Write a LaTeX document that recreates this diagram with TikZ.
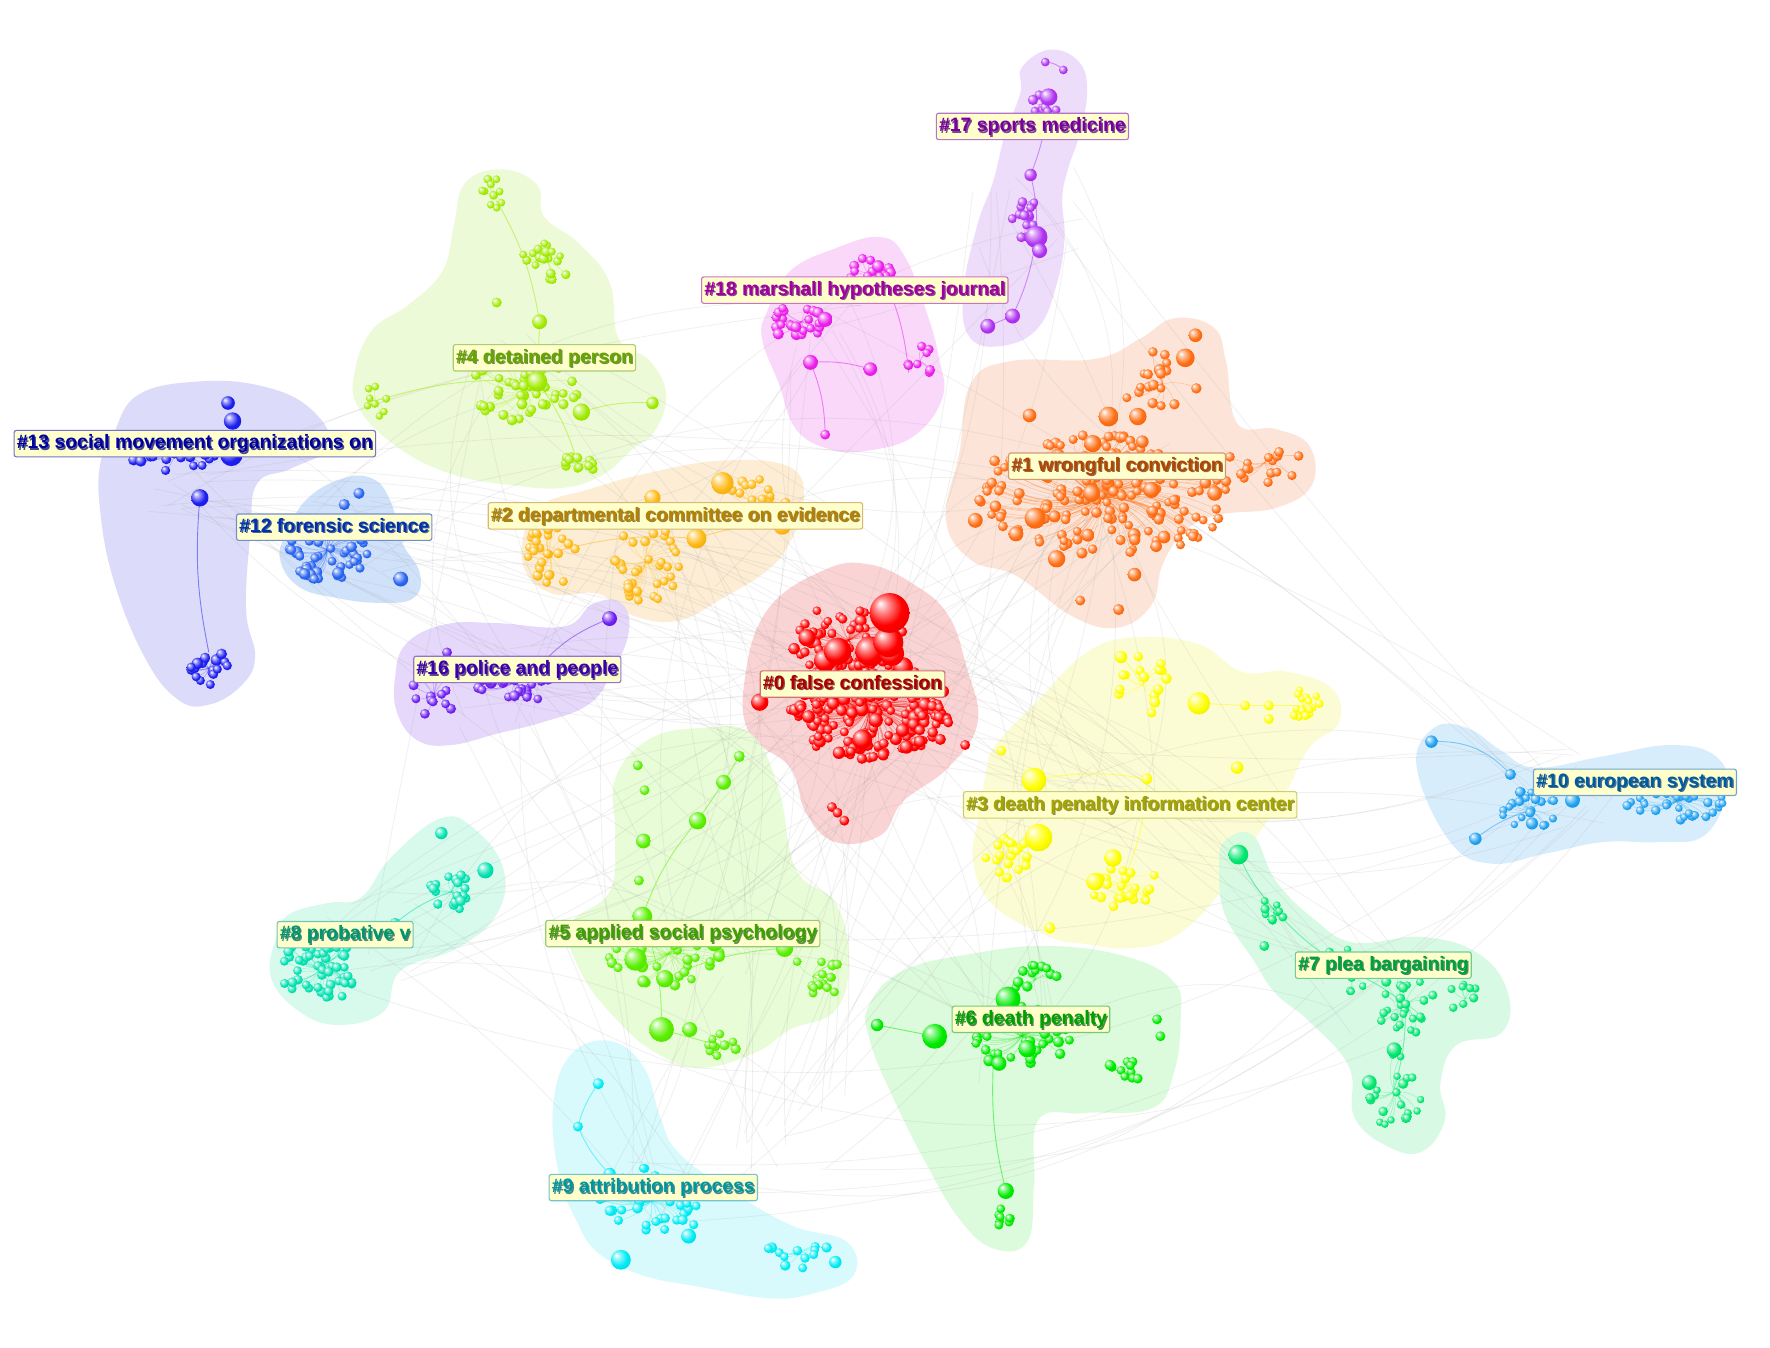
\documentclass[tikz,border=0pt]{standalone}
\usepackage{fontspec}
\newfontfamily\labfam{Liberation Sans}
% node colours
\definecolor{n0}{RGB}{255,0,0}\definecolor{n1}{RGB}{255,110,20}\definecolor{n2}{RGB}{255,185,20}
\definecolor{n3}{RGB}{255,255,0}\definecolor{n4}{RGB}{160,235,0}\definecolor{n5}{RGB}{90,240,0}
\definecolor{n6}{RGB}{0,235,0}\definecolor{n7}{RGB}{0,230,110}\definecolor{n8}{RGB}{0,225,175}
\definecolor{n9}{RGB}{0,235,245}\definecolor{n10}{RGB}{30,160,240}\definecolor{n12}{RGB}{40,100,240}
\definecolor{n13}{RGB}{30,30,240}\definecolor{n16}{RGB}{110,30,240}\definecolor{n17}{RGB}{175,50,240}
\definecolor{n18}{RGB}{235,30,235}
% blob colours
\definecolor{b0}{RGB}{250,205,205}\definecolor{b1}{RGB}{252,225,210}\definecolor{b2}{RGB}{252,235,205}
\definecolor{b3}{RGB}{252,252,205}\definecolor{b4}{RGB}{235,250,210}\definecolor{b5}{RGB}{228,252,210}
\definecolor{b6}{RGB}{215,250,215}\definecolor{b7}{RGB}{210,250,225}\definecolor{b8}{RGB}{210,250,235}
\definecolor{b9}{RGB}{210,250,252}\definecolor{b10}{RGB}{210,235,252}\definecolor{b12}{RGB}{200,220,250}
\definecolor{b13}{RGB}{215,215,250}\definecolor{b16}{RGB}{225,210,250}\definecolor{b17}{RGB}{235,215,250}
\definecolor{b18}{RGB}{250,210,250}
% label text colours
\definecolor{t0}{RGB}{170,0,0}\definecolor{t1}{RGB}{176,70,0}\definecolor{t2}{RGB}{180,130,0}
\definecolor{t3}{RGB}{165,165,0}\definecolor{t4}{RGB}{100,165,0}\definecolor{t5}{RGB}{60,160,0}
\definecolor{t6}{RGB}{0,160,0}\definecolor{t7}{RGB}{0,160,60}\definecolor{t8}{RGB}{0,150,110}
\definecolor{t9}{RGB}{0,150,160}\definecolor{t10}{RGB}{0,90,160}\definecolor{t12}{RGB}{0,50,170}
\definecolor{t13}{RGB}{0,0,160}\definecolor{t16}{RGB}{60,0,170}\definecolor{t17}{RGB}{120,0,160}
\definecolor{t18}{RGB}{160,0,160}
\definecolor{labfill}{RGB}{255,255,204}
\colorlet{mycol}{red}
\pgfdeclareradialshading[mycol]{myball}{\pgfpoint{-12bp}{12bp}}{color(0bp)=(white); color(9bp)=(mycol!45!white); color(22bp)=(mycol); color(40bp)=(mycol!88!black); color(47bp)=(mycol!55!black); color(50bp)=(mycol!40!black)}

\newcommand\shtxt[2]{\rlap{\kern0.6pt\raisebox{-0.6pt}{\textcolor{#1!45!gray}{#2}}}\textcolor{#1}{#2}}
\newcommand\myball[4]{\colorlet{mycol}{#1}\shade[shading=myball] (#2,#3) circle[radius=#4*0.55pt];}
% cluster: colour, cx, cy, sx, sy, n, rmin, rmax, seed
\newcommand\mycl[9]{%
  \pgfmathsetseed{#9}%
  \foreach \i in {1,...,#6}{%
    \pgfmathsetmacro\ang{360*rnd}%
    \pgfmathsetmacro\rr{sqrt(rnd)}%
    \pgfmathsetmacro\px{#2+#4*\rr*cos(\ang)}%
    \pgfmathsetmacro\py{#3+#5*\rr*sin(\ang)}%
    \pgfmathsetmacro\rad{#7+(#8-#7)*rnd*rnd}%
    \draw[#1, cedge] (#2,#3) to[bend left=18] (\px,\py);
  }%
  \colorlet{mycol}{#1}%
  \pgfmathsetseed{#9}%
  \foreach \i in {1,...,#6}{%
    \pgfmathsetmacro\ang{360*rnd}%
    \pgfmathsetmacro\rr{sqrt(rnd)}%
    \pgfmathsetmacro\px{#2+#4*\rr*cos(\ang)}%
    \pgfmathsetmacro\py{#3+#5*\rr*sin(\ang)}%
    \pgfmathsetmacro\rad{#7+(#8-#7)*rnd*rnd}%
    \shade[shading=myball] (\px,\py) circle[radius=\rad*0.55pt];
  }}

\begin{document}
\begin{tikzpicture}[x=0.5pt,y=-0.5pt,
  cedge/.style={line width=0.25pt, opacity=0.3},
  link/.style={line width=0.4pt, opacity=0.5},
  gedge/.style={black!45, line width=0.35pt, opacity=0.13},
  blob/.style={fill=#1, fill opacity=0.85},
  lab/.style={draw=#1!55, fill=labfill, rounded corners=1pt, inner xsep=1.2pt, inner ysep=1.6pt,
    text height=6.6pt, text depth=1.9pt, font=\labfam\bfseries\fontsize{8.6}{10}\selectfont,
    line width=0.5pt, anchor=west}]
\fill[white] (0,0) rectangle (1568,1194);
\useasboundingbox (0,0) rectangle (1568,1194);

% ---------------- cluster regions ----------------
\fill[blob=b13] plot[smooth cycle,tension=.7] coordinates {(100,385)(122,350)(175,338)(232,342)(275,362)(292,395)(258,415)(228,428)(222,470)(218,540)(226,582)(214,607)(186,624)(158,620)(128,582)(100,512)(88,445)(90,405)};
\fill[blob=b12] plot[smooth cycle,tension=.7] coordinates {(255,470)(272,442)(303,424)(330,424)(346,444)(356,480)(372,508)(366,530)(335,534)(300,530)(265,520)(248,495)};
\fill[blob=b4] plot[smooth cycle,tension=.7] coordinates {(412,162)(445,150)(476,164)(482,192)(512,215)(540,250)(548,300)(576,320)(590,350)(580,382)(560,398)(535,420)(500,432)(455,430)(400,420)(352,396)(318,362)(314,330)(330,292)(362,270)(392,240)(402,200)};
\fill[blob=b2] plot[smooth cycle,tension=.7] coordinates {(465,470)(482,446)(520,434)(570,420)(640,408)(700,414)(712,445)(700,480)(680,505)(640,530)(600,550)(560,545)(530,526)(490,526)(465,505)};
\fill[blob=b16] plot[smooth cycle,tension=.7] coordinates {(350,600)(360,570)(395,553)(440,552)(500,555)(525,535)(550,534)(557,560)(540,600)(520,625)(480,640)(440,650)(400,660)(370,656)(352,632)};
\fill[blob=b18] plot[smooth cycle,tension=.7] coordinates {(680,275)(700,240)(740,220)(780,210)(802,228)(822,280)(832,318)(835,352)(810,386)(770,399)(735,398)(705,380)(690,340)(675,300)};
\fill[blob=b17] plot[smooth cycle,tension=.7] coordinates {(905,60)(930,44)(956,55)(963,82)(956,120)(946,150)(941,176)(943,212)(936,252)(920,290)(890,306)(860,300)(853,262)(865,202)(880,160)(890,120)(904,82)};
\fill[blob=b1] plot[smooth cycle,tension=.7] coordinates {(850,400)(860,340)(895,320)(970,318)(1010,300)(1040,282)(1075,290)(1086,320)(1096,375)(1130,380)(1160,395)(1162,430)(1130,450)(1080,456)(1050,470)(1030,500)(1020,536)(990,556)(950,546)(900,510)(860,496)(838,460)};
\fill[blob=b3] plot[smooth cycle,tension=.7] coordinates {(882,660)(920,620)(960,580)(1000,565)(1060,570)(1100,595)(1140,595)(1180,610)(1186,640)(1160,662)(1140,700)(1110,746)(1080,792)(1040,830)(1000,840)(960,836)(930,830)(880,802)(862,762)(868,720)(874,682)};
\fill[blob=b0] plot[smooth cycle,tension=.7] coordinates {(660,600)(680,540)(730,505)(770,500)(810,518)(840,545)(856,590)(866,640)(840,680)(800,710)(780,740)(740,746)(714,720)(700,680)(664,650)};
\fill[blob=b10] plot[smooth cycle,tension=.7] coordinates {(1255,680)(1270,645)(1300,645)(1330,665)(1360,680)(1420,670)(1480,660)(1520,670)(1530,700)(1510,740)(1470,746)(1420,746)(1370,756)(1320,765)(1284,745)};
\fill[blob=b7] plot[smooth cycle,tension=.7] coordinates {(1085,745)(1110,740)(1130,780)(1165,815)(1200,835)(1260,830)(1310,845)(1336,880)(1330,915)(1290,926)(1276,960)(1280,992)(1260,1020)(1230,1016)(1200,990)(1195,945)(1160,905)(1130,880)(1110,850)(1085,810)(1080,770)};
\fill[blob=b5] plot[smooth cycle,tension=.7] coordinates {(545,690)(575,655)(620,645)(665,650)(690,700)(705,770)(740,800)(752,850)(740,895)(700,912)(670,932)(620,946)(580,932)(545,902)(515,862)(505,820)(540,790)(545,740)};
\fill[blob=b6] plot[smooth cycle,tension=.7] coordinates {(770,890)(800,860)(860,845)(930,838)(1000,848)(1040,870)(1046,900)(1040,950)(1020,982)(960,986)(920,992)(916,1050)(910,1100)(880,1106)(850,1080)(820,1030)(790,970)(770,920)};
\fill[blob=b8] plot[smooth cycle,tension=.7] coordinates {(245,830)(256,810)(290,800)(320,795)(346,760)(390,725)(420,734)(446,770)(440,810)(405,840)(355,860)(340,896)(300,908)(265,896)(240,866)};
\fill[blob=b9] plot[smooth cycle,tension=.7] coordinates {(490,980)(505,935)(540,922)(570,945)(585,990)(600,1020)(640,1050)(700,1085)(750,1100)(756,1130)(720,1146)(680,1150)(620,1140)(570,1130)(530,1110)(510,1080)(495,1040)};

% ---------------- faint gray inter-cluster links ----------------
\def\hx{{760,760,760,760,990,990,590,980,980,620,900,580,1200,470,320,450,300,170,750,910,1400,700}}
\def\hy{{610,610,610,610,430,430,480,700,700,830,920,1060,880,330,830,605,480,420,300,180,700,1000}}
\pgfmathsetseed{4242}
\foreach \k in {1,...,190}{
  \pgfmathsetmacro\ia{int(21.99*rnd)}
  \pgfmathsetmacro\ib{int(21.99*rnd)}
  \pgfmathsetmacro\xa{\hx[\ia]+50*rand}
  \pgfmathsetmacro\ya{\hy[\ia]+40*rand}
  \pgfmathsetmacro\xb{\hx[\ib]+50*rand}
  \pgfmathsetmacro\yb{\hy[\ib]+40*rand}
  \pgfmathsetmacro\bnd{35*rand}
  \draw[gedge] (\xa,\ya) to[bend left=\bnd] (\xb,\yb);
}

% ---------------- #13 ----------------
\draw[n13,link] (177,441) to[bend right=8] (185,578);
\mycl{n13}{155}{400}{50}{18}{28}{3.5}{5.5}{13}
\mycl{n13}{185}{592}{22}{15}{18}{3.5}{5}{113}
\myball{n13}{205}{403}{9}\myball{n13}{202}{357}{5.5}\myball{n13}{206}{373}{7}\myball{n13}{177}{441}{7}
% ---------------- #12 ----------------
\mycl{n12}{290}{487}{36}{28}{55}{3.5}{5}{12}
\myball{n12}{355}{513}{6}\myball{n12}{318}{437}{4.5}\myball{n12}{305}{447}{4.5}
% ---------------- #4 ----------------
\draw[n4,link] (440,178) to[bend left=10] (478,285);
\draw[n4,link] (478,285) -- (476,338);
\draw[n4,link] (476,338) to[bend left=10] (512,412);
\draw[n4,link] (333,355) to[bend left=10] (476,338);
\draw[n4,link] (578,357) to[bend right=10] (515,365);
\mycl{n4}{437}{172}{14}{15}{10}{3}{4}{4}
\mycl{n4}{485}{232}{25}{18}{18}{3}{4.5}{14}
\mycl{n4}{465}{345}{50}{28}{45}{3.5}{5}{24}
\mycl{n4}{512}{412}{15}{10}{12}{3.5}{4.5}{34}
\mycl{n4}{333}{355}{10}{15}{8}{3}{4}{44}
\myball{n4}{476}{338}{8}\myball{n4}{515}{365}{7}\myball{n4}{478}{285}{6}\myball{n4}{578}{357}{5}\myball{n4}{440}{268}{4}
% ---------------- #2 ----------------
\draw[n2,link] (487,490) to[bend left=10] (617,477);
\draw[n2,link] (617,477) to[bend left=10] (693,466);
\mycl{n2}{487}{492}{25}{32}{30}{3.5}{4.5}{2}
\mycl{n2}{572}{497}{30}{38}{35}{3.5}{4.5}{12}
\mycl{n2}{665}{442}{35}{18}{22}{3.5}{4.5}{22}
\myball{n2}{640}{428}{9}\myball{n2}{617}{477}{8}\myball{n2}{578}{441}{6.5}\myball{n2}{693}{466}{7}
% ---------------- #16 ----------------
\draw[n16,link] (540,548) to[bend right=15] (470,600);
\mycl{n16}{455}{605}{35}{18}{40}{3.5}{5}{16}
\mycl{n16}{385}{615}{20}{25}{15}{3.5}{4.5}{116}
\myball{n16}{540}{548}{6}\myball{n16}{396}{578}{4}
% ---------------- #18 ----------------
\draw[n18,link] (718,321) to[bend left=10] (731,385);
\draw[n18,link] (718,321) to[bend left=10] (771,327);
\draw[n18,link] (778,236) to[bend left=10] (805,330);
\mycl{n18}{710}{285}{25}{20}{22}{3.5}{5}{18}
\mycl{n18}{770}{243}{22}{15}{18}{3.5}{5}{118}
\mycl{n18}{815}{320}{12}{15}{8}{3.5}{4.5}{218}
\myball{n18}{718}{321}{6}\myball{n18}{771}{327}{5.5}\myball{n18}{731}{385}{4}\myball{n18}{778}{236}{5}\myball{n18}{731}{283}{6}
% ---------------- #17 ----------------
\draw[n17,link] (929,86) to[bend left=8] (913,155);
\draw[n17,link] (913,155) to[bend left=8] (918,210);
\draw[n17,link] (918,210) to[bend left=8] (897,280);
\draw[n17,link] (897,280) -- (875,289);
\draw[n17,link] (926,55) to[bend left=20] (942,62);
\mycl{n17}{910}{192}{14}{20}{16}{3.5}{4.5}{17}
\mycl{n17}{925}{95}{12}{14}{10}{3.5}{4.5}{117}
\myball{n17}{918}{210}{9}\myball{n17}{929}{86}{7}\myball{n17}{875}{289}{6}\myball{n17}{897}{280}{6}
\myball{n17}{913}{155}{5}\myball{n17}{926}{55}{3.5}\myball{n17}{942}{62}{3.5}\myball{n17}{921}{222}{6}
% ---------------- #1 ----------------
\mycl{n1}{975}{440}{115}{55}{175}{3.5}{5.5}{1}
\mycl{n1}{1030}{340}{35}{30}{18}{3.5}{5}{101}
\mycl{n1}{1120}{410}{35}{18}{15}{3.5}{4.5}{201}
\myball{n1}{1050}{317}{7.5}\myball{n1}{982}{369}{8}\myball{n1}{1008}{369}{7}\myball{n1}{968}{393}{7}
\myball{n1}{917}{459}{8.5}\myball{n1}{967}{437}{7}\myball{n1}{1020}{434}{6.5}\myball{n1}{1076}{437}{6}
\myball{n1}{936}{495}{7}\myball{n1}{900}{473}{6}\myball{n1}{864}{461}{6}\myball{n1}{912}{368}{5.5}
\myball{n1}{1059}{297}{5.5}\myball{n1}{1005}{509}{5.5}\myball{n1}{991}{540}{4.5}\myball{n1}{957}{532}{4}
% ---------------- #0 ----------------
\mycl{n0}{770}{628}{72}{45}{200}{3.5}{6}{100}
\mycl{n0}{752}{567}{50}{35}{50}{3.5}{5}{200}
\myball{n0}{737}{715}{4}\myball{n0}{742}{720}{4}\myball{n0}{748}{727}{4}
\myball{n0}{855}{660}{4}\myball{n0}{833}{655}{4.5}\myball{n0}{840}{640}{4}\myball{n0}{817}{634}{4}
\myball{n0}{673}{622}{7}\myball{n0}{715}{565}{7}\myball{n0}{764}{655}{8}\myball{n0}{800}{591}{8}
\myball{n0}{731}{585}{9}\myball{n0}{742}{577}{11}\myball{n0}{771}{577}{12}\myball{n0}{790}{579}{10}
\myball{n0}{787}{569}{12}\myball{n0}{788}{543}{16}
% ---------------- #3 ----------------
\draw[n3,link] (1062,623) -- (1103,625) -- (1155,625);
\draw[n3,link] (993,582) to[bend left=10] (1010,605);
\draw[n3,link] (916,691) to[bend left=10] (1016,690);
\draw[n3,link] (1016,690) to[bend left=10] (995,780);
\mycl{n3}{1012}{607}{22}{30}{14}{3.5}{4.5}{3}
\mycl{n3}{1155}{625}{15}{14}{18}{3}{4}{103}
\mycl{n3}{893}{760}{20}{18}{22}{3.5}{4.5}{203}
\mycl{n3}{995}{782}{30}{22}{28}{3.5}{4.5}{303}
\myball{n3}{1062}{623}{9}\myball{n3}{916}{691}{10}\myball{n3}{920}{742}{11}\myball{n3}{970}{781}{7}
\myball{n3}{986}{760}{7}\myball{n3}{1096}{680}{5}\myball{n3}{993}{582}{5}\myball{n3}{1023}{622}{4.5}
\myball{n3}{1016}{690}{4.5}\myball{n3}{930}{822}{4.5}\myball{n3}{1103}{625}{4}\myball{n3}{1124}{625}{4}
\myball{n3}{1124}{637}{4}\myball{n3}{887}{665}{4}
% ---------------- #10 ----------------
\draw[n10,link] (1268,657) to[bend left=25] (1338,686);
\draw[n10,link] (1307,743) to[bend left=10] (1355,718);
\mycl{n10}{1485}{710}{45}{17}{40}{3}{4.5}{10}
\mycl{n10}{1355}{718}{25}{18}{22}{3}{5}{110}
\myball{n10}{1268}{657}{5}\myball{n10}{1307}{743}{5}\myball{n10}{1338}{686}{4.5}\myball{n10}{1393}{709}{6}
% ---------------- #7 ----------------
\draw[n7,link] (1097,757) to[bend right=8] (1128,805);
\draw[n7,link] (1128,805) to[bend right=8] (1195,860);
\draw[n7,link] (1195,860) to[bend left=8] (1245,890);
\draw[n7,link] (1245,890) to[bend left=8] (1235,965);
\mycl{n7}{1128}{805}{12}{12}{9}{3}{4}{7}
\mycl{n7}{1195}{860}{35}{20}{20}{3}{4.5}{107}
\mycl{n7}{1245}{890}{28}{28}{25}{3}{4.5}{207}
\mycl{n7}{1298}{885}{15}{15}{8}{3}{4}{307}
\mycl{n7}{1235}{967}{25}{35}{22}{3}{4.5}{407}
\myball{n7}{1097}{757}{8}\myball{n7}{1213}{959}{6}\myball{n7}{1235}{930}{6}\myball{n7}{1120}{838}{4}
% ---------------- #8 ----------------
\draw[n8,link] (285,858) to[bend left=10] (350,818);
\draw[n8,link] (350,818) to[bend left=10] (400,790);
\mycl{n8}{285}{858}{40}{30}{55}{3.5}{4.5}{8}
\mycl{n8}{400}{790}{20}{17}{20}{3.5}{4.5}{108}
\myball{n8}{430}{771}{6.5}\myball{n8}{391}{738}{5}\myball{n8}{350}{818}{4.5}
% ---------------- #5 ----------------
\draw[n5,link] (655,670) -- (641,693) -- (618,727);
\draw[n5,link] (618,727) to[bend right=10] (569,812);
\draw[n5,link] (569,812) to[bend left=10] (586,912);
\draw[n5,link] (589,867) to[bend left=10] (695,840);
\draw[n5,link] (586,912) -- (640,927);
\mycl{n5}{592}{845}{55}{28}{40}{3.5}{5}{5}
\mycl{n5}{720}{865}{25}{25}{16}{3.5}{4.5}{105}
\mycl{n5}{640}{927}{14}{12}{10}{3.5}{4.5}{205}
\myball{n5}{655}{670}{4.5}\myball{n5}{641}{693}{6}\myball{n5}{618}{727}{7}\myball{n5}{570}{745}{6}
\myball{n5}{565}{678}{4}\myball{n5}{571}{700}{4}\myball{n5}{566}{780}{4}\myball{n5}{586}{912}{10}
\myball{n5}{589}{867}{7}\myball{n5}{611}{912}{6}\myball{n5}{569}{812}{8}\myball{n5}{695}{840}{7}
\myball{n5}{563}{850}{9}\myball{n5}{633}{835}{7}
% ---------------- #6 ----------------
\draw[n6,link] (828,918) -- (777,908);
\draw[n6,link] (891,1055) to[bend left=8] (880,940);
\mycl{n6}{905}{918}{45}{28}{50}{3.5}{5}{6}
\mycl{n6}{995}{950}{15}{12}{12}{3.5}{4.5}{106}
\mycl{n6}{917}{868}{20}{14}{12}{3.5}{4.5}{206}
\mycl{n6}{888}{1078}{9}{8}{8}{3.5}{4}{306}
\myball{n6}{893}{885}{10}\myball{n6}{828}{918}{10}\myball{n6}{910}{929}{7}\myball{n6}{777}{908}{5}
\myball{n6}{891}{1055}{6.5}\myball{n6}{885}{942}{6}\myball{n6}{1025}{903}{4}\myball{n6}{1028}{918}{4}
% ---------------- #9 ----------------
\draw[n9,link] (530,960) to[bend right=10] (512,998);
\draw[n9,link] (512,998) to[bend right=10] (540,1040);
\mycl{n9}{577}{1064}{55}{30}{50}{3.5}{5}{9}
\mycl{n9}{708}{1110}{30}{14}{12}{3.5}{4.5}{109}
\myball{n9}{550}{1116}{8}\myball{n9}{512}{998}{4}\myball{n9}{530}{960}{4.5}\myball{n9}{540}{1040}{5}
\myball{n9}{740}{1118}{5}\myball{n9}{610}{1095}{6}

% ---------------- labels ----------------
\node[lab=t13] (l13) at (12,393) {\shtxt{t13}{\#13 social movement organizations on}};
\node[lab=t12] (l12) at (209,467) {\shtxt{t12}{\#12 forensic science}};
\node[lab=t4] (l4) at (401,317) {\shtxt{t4}{\#4 detained person}};
\node[lab=t2] (l2) at (432,457) {\shtxt{t2}{\#2 departmental committee on evidence}};
\node[lab=t17] (l17) at (829,112) {\shtxt{t17}{\#17 sports medicine}};
\node[lab=t18] (l18) at (621,257) {\shtxt{t18}{\#18 marshall hypotheses journal}};
\node[lab=t1] (l1) at (893,413) {\shtxt{t1}{\#1 wrongful conviction}};
\node[lab=t0] (l0) at (673,606) {\shtxt{t0}{\#0 false confession}};
\node[lab=t16] (l16) at (366,593) {\shtxt{t16}{\#16 police and people}};
\node[lab=t3] (l3) at (853,713) {\shtxt{t3}{\#3 death penalty information center}};
\node[lab=t10] (l10) at (1358,693) {\shtxt{t10}{\#10 european system}};
\node[lab=t7] (l7) at (1147,855) {\shtxt{t7}{\#7 plea bargaining}};
\node[lab=t8] (l8) at (245,828) {\shtxt{t8}{\#8 probative v}};
\node[lab=t5] (l5) at (483,827) {\shtxt{t5}{\#5 applied social psychology}};
\node[lab=t6] (l6) at (843,903) {\shtxt{t6}{\#6 death penalty}};
\node[lab=t9] (l9) at (486,1052) {\shtxt{t9}{\#9 attribution process}};
\end{tikzpicture}
\end{document}
